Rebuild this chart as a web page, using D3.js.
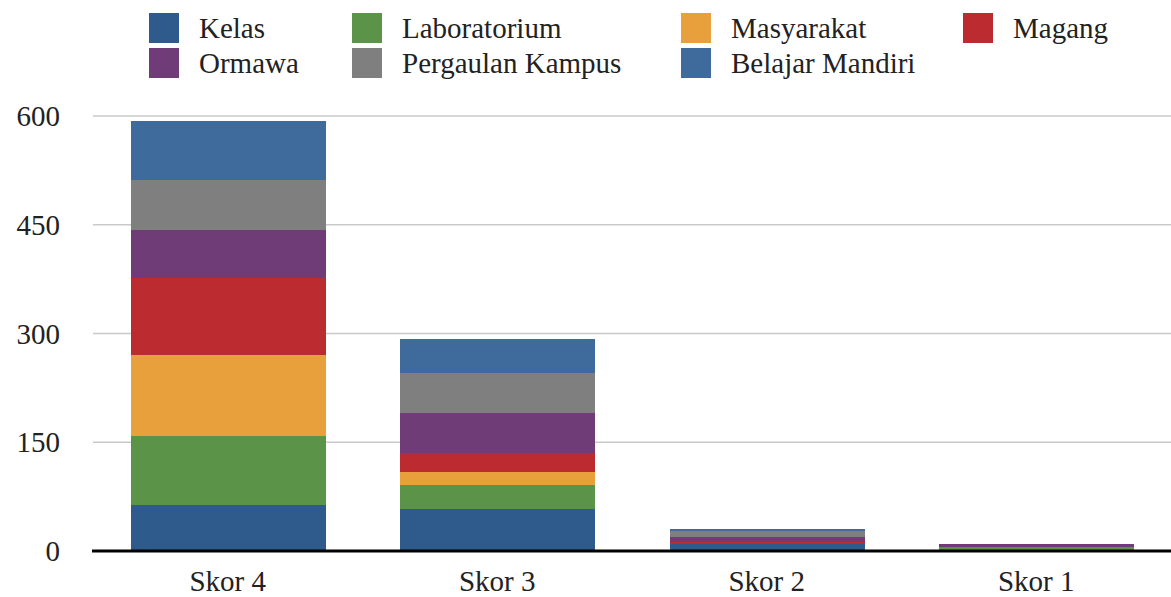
<!DOCTYPE html>
<html lang="id">
<head>
    <meta charset="UTF-8">
    <script src="https://d3js.org/d3.v7.min.js"></script>
    <title>Skor per kategori</title>
    <style>
        body { margin: 0; background: white; }
        text { font-family: "Liberation Serif", serif; fill: #222; }
    </style>
</head>
<body>
    <div id="chart"></div>
    <script>
        // data
        const categories = ["Skor 4", "Skor 3", "Skor 2", "Skor 1"];
        const seriesNames = ["Kelas", "Laboratorium", "Masyarakat", "Magang", "Ormawa", "Pergaulan Kampus", "Belajar Mandiri"];
        const kelas      = [64, 58, 9, 0];
        const lab        = [95, 33, 0, 5];
        const masyarakat = [112, 18, 0, 0];
        const magang     = [106, 26, 3, 0];
        const ormawa     = [66, 55, 8, 4];
        const pergaulan  = [69, 55, 7, 0];
        const mandiri    = [81, 47, 4, 0];
        const yTicks = [0, 150, 300, 450, 600];

        const colors = ["#2e5a8c", "#5b9448", "#e8a03c", "#bb2b2f", "#6f3c77", "#7e7f7e", "#3f6a9c"];

        const width = 1171, height = 597;
        const margin = { top: 116, right: 0, bottom: 46, left: 93 };

        const rows = categories.map((c, i) => ({
            cat: c,
            "Kelas": kelas[i],
            "Laboratorium": lab[i],
            "Masyarakat": masyarakat[i],
            "Magang": magang[i],
            "Ormawa": ormawa[i],
            "Pergaulan Kampus": pergaulan[i],
            "Belajar Mandiri": mandiri[i]
        }));

        const stacked = d3.stack().keys(seriesNames)(rows);

        const svg = d3.select("#chart").append("svg")
            .attr("width", width)
            .attr("height", height);

        const x = d3.scaleBand()
            .domain(categories)
            .range([margin.left, width - margin.right])
            .paddingInner(0.28)
            .paddingOuter(0.14);

        const y = d3.scaleLinear()
            .domain([0, 600])
            .range([height - margin.bottom, margin.top]);

        // gridlines
        svg.append("g")
            .selectAll("line")
            .data(yTicks.filter(d => d > 0))
            .join("line")
            .attr("x1", margin.left)
            .attr("x2", width)
            .attr("y1", d => y(d))
            .attr("y2", d => y(d))
            .attr("stroke", "#c9c9c9")
            .attr("stroke-width", 1.5);

        // y tick labels
        svg.append("g")
            .selectAll("text")
            .data(yTicks)
            .join("text")
            .attr("x", 60)
            .attr("y", d => y(d))
            .attr("dy", "0.35em")
            .attr("text-anchor", "end")
            .attr("font-size", 29)
            .text(d => d);

        // bars
        svg.append("g")
            .attr("shape-rendering", "crispEdges")
            .selectAll("g")
            .data(stacked)
            .join("g")
            .attr("fill", (d, i) => colors[i])
            .selectAll("rect")
            .data(d => d)
            .join("rect")
            .attr("x", d => x(d.data.cat))
            .attr("width", x.bandwidth() + 1)
            .attr("y", d => y(d[1]))
            .attr("height", d => y(d[0]) - y(d[1]));

        // baseline
        svg.append("line")
            .attr("x1", margin.left - 1)
            .attr("x2", width)
            .attr("y1", y(0))
            .attr("y2", y(0))
            .attr("stroke", "#000")
            .attr("stroke-width", 3);

        // x labels
        svg.append("g")
            .selectAll("text")
            .data(categories)
            .join("text")
            .attr("x", d => x(d) + x.bandwidth() / 2)
            .attr("y", 591)
            .attr("text-anchor", "middle")
            .attr("font-size", 29)
            .text(d => d);

        // legend, 4 columns x 2 rows
        const legendCols = [149, 352, 681, 963];
        const legendRows = [13, 48];
        const legend = svg.append("g")
            .selectAll("g")
            .data(seriesNames)
            .join("g")
            .attr("transform", (d, i) => `translate(${legendCols[i % 4]},${legendRows[Math.floor(i / 4)]})`);

        legend.append("rect")
            .attr("width", 30)
            .attr("height", 30)
            .attr("fill", (d, i) => colors[i]);

        legend.append("text")
            .attr("x", 50)
            .attr("y", 15)
            .attr("dy", "0.35em")
            .attr("font-size", 29)
            .text(d => d);
    </script>
</body>
</html>
